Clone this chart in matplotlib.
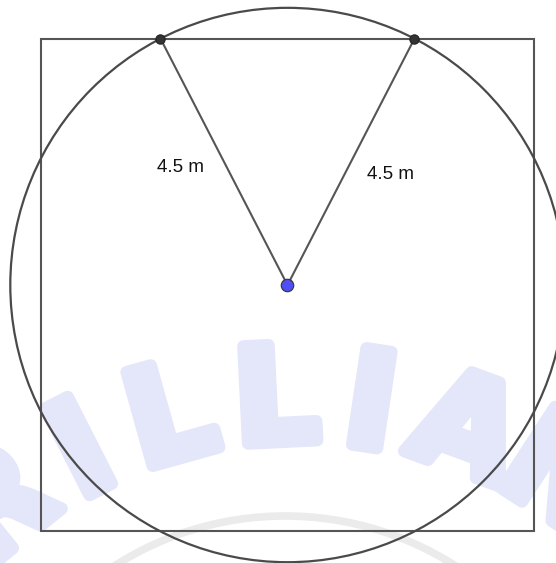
import numpy as np
import matplotlib.pyplot as plt
import matplotlib.patheffects as pe
from matplotlib.patches import Circle, Rectangle, Arc

# geometry (metres)
radius = 4.5
side = 8.0
label = "4.5 m"

# watermark
wm_letters = list("BRILLIANT")
wm_angles = [-51, -39, -27, -15.6, -2.8, 8.5, 20.3, 33, 45]

fig = plt.figure(figsize=(5.56, 5.63), dpi=100)
ax = fig.add_axes([0, 0, 1, 1])
ax.set_xlim(-4.667, 4.359)
ax.set_ylim(-4.513, 4.627)
ax.set_aspect('equal')
ax.axis('off')

# watermark text on an arc
wm_c = (0.2, -9.66)
wm_r = 7.72
for ch, a in zip(wm_letters, wm_angles):
    t = np.radians(a)
    x = wm_c[0] + wm_r * np.sin(t)
    y = wm_c[1] + wm_r * np.cos(t)
    ax.text(x, y, ch, fontsize=96, fontweight='heavy', family='DejaVu Sans',
            color='#e4e6fa', ha='center', va='center', rotation=-a,
            rotation_mode='anchor', zorder=0,
            path_effects=[pe.withStroke(linewidth=9, foreground='#e4e6fa')])
ax.add_patch(Arc((-0.04, -8.89), 2 * 5.14, 2 * 5.14, theta1=55, theta2=125,
                 color='#ebebeb', lw=5.5, zorder=0))

h = side / 2
ax.add_patch(Rectangle((-h, -h), side, side, fill=False, ec='#555555', lw=1.5, zorder=2))
ax.add_patch(Circle((0, 0), radius, fill=False, ec='#4a4a4a', lw=1.6, zorder=2))

px = np.sqrt(radius**2 - h**2)
for sx in (-px, px):
    ax.plot([0, sx], [0, h], color='#555555', lw=1.5, zorder=3)
    ax.plot(sx, h, 'o', ms=6.7, mfc='#333333', mec='#222222', mew=0.8, zorder=4)

ax.plot(0, 0, 'o', ms=9, mfc='#4f4ff5', mec='#333333', mew=0.8, zorder=4)

ax.text(-1.73, 1.90, label, fontsize=13.5, family='Liberation Sans',
        ha='center', va='center', color='#111111')
ax.text(1.68, 1.80, label, fontsize=13.5, family='Liberation Sans',
        ha='center', va='center', color='#111111')

fig.savefig('out.png', dpi=100)
